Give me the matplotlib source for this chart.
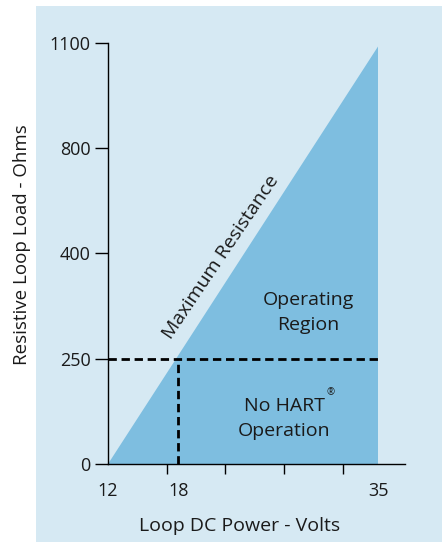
import numpy as np
import matplotlib
matplotlib.use('Agg')
import matplotlib.pyplot as plt
from matplotlib.patches import Rectangle

plt.rcParams['font.family'] = ['Open Sans', 'DejaVu Sans']

# y axis labels are evenly spaced, not linear
y_ticks = [0, 250, 400, 800, 1100]
y_idx = [0, 1, 2, 3, 4]

x_labels = [12, 18, 35]
x_marks = [12, 17, 22, 27, 32, 35]

# operating region outline (volts, ohms)
region_v = [12, 35, 35]
region_ohm = [0, 1090, 0]

hart_v = 18
hart_ohm = 250
v_max = 35

panel = '#d6e9f3'
fill = '#7ebee0'


def fwd(y):
    return np.interp(y, y_ticks, y_idx)


def inv(i):
    return np.interp(i, y_idx, y_ticks)


fig = plt.figure(figsize=(4.42, 5.42), dpi=100)
fig.patches.append(Rectangle((36 / 442, 0), 1, 536 / 542, transform=fig.transFigure,
                             facecolor=panel, edgecolor='none', zorder=-5))

ax = fig.add_axes([108 / 442, 78 / 542, 297 / 442, 421 / 542])
ax.set_facecolor('none')
ax.set_yscale('function', functions=(fwd, inv))
ax.set_xlim(12, 37.3)
ax.set_ylim(0, 1100)

ax.fill(region_v, region_ohm, color=fill, lw=0, zorder=1)
ax.plot([12, v_max], [hart_ohm, hart_ohm], color='black', lw=2.0, dashes=(3.0, 1.7), zorder=2)
ax.plot([hart_v, hart_v], [0, hart_ohm], color='black', lw=2.0, dashes=(3.0, 1.7), zorder=2)

for s in ['top', 'right']:
    ax.spines[s].set_visible(False)
for s in ['left', 'bottom']:
    ax.spines[s].set_linewidth(1.0)
    ax.spines[s].set_zorder(3)

ax.set_yticks(y_ticks)
ax.set_yticklabels([str(v) for v in y_ticks])
ax.yaxis.set_minor_locator(matplotlib.ticker.NullLocator())
ax.tick_params(axis='y', direction='out', length=9.5, width=1.0, pad=3, labelsize=13,
               labelcolor='#1a1a1a')

ax.set_xticks(x_labels)
ax.set_xticklabels([str(v) for v in x_labels])
ax.set_xticks(x_marks, minor=True)
ax.tick_params(axis='x', which='major', length=0, pad=13, labelsize=13, labelcolor='#1a1a1a')
ax.tick_params(axis='x', which='minor', direction='out', length=7, width=1.0)

ax.set_xlabel('Loop DC Power - Volts', fontsize=14, color='#1a1a1a')
ax.xaxis.set_label_coords(0.444, -0.125)
ax.set_ylabel('Resistive Loop Load - Ohms', fontsize=13.5, color='#1a1a1a')
ax.yaxis.set_label_coords(-0.26, 0.52)

ax.text(21.6, 395, 'Maximum Resistance', rotation=56, rotation_mode='anchor',
        ha='center', va='center', fontsize=14, color='#1a1a1a')
ax.text(29.1, 316, 'Operating\nRegion', ha='center', va='center',
        fontsize=14, linespacing=1.45, color='#1a1a1a')
ax.text(27.0, 108, 'No HART\nOperation', ha='center', va='center',
        fontsize=14, linespacing=1.5, color='#1a1a1a')
ax.text(30.95, 170, '\u00ae', ha='center', va='center', fontsize=7, color='#1a1a1a')

fig.savefig('out.png', dpi=100)
